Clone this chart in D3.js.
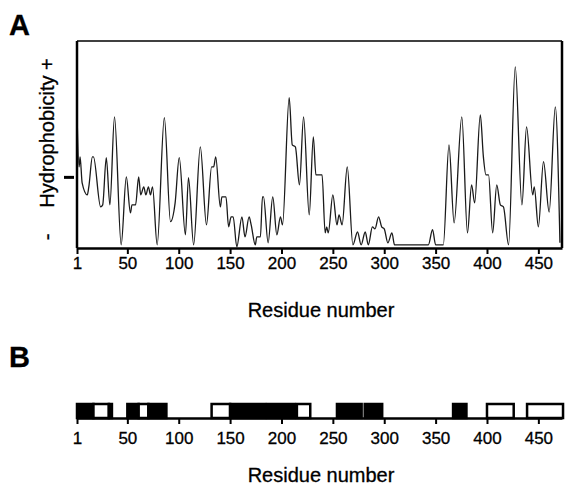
<!DOCTYPE html>
<html>
<head>
<meta charset="utf-8">
<script src="https://cdn.jsdelivr.net/npm/d3@7"></script>
<style>
  body { margin: 0; background: #fff; }
  text { font-family: "Liberation Sans", Arial, sans-serif; fill: #000; stroke: #000; stroke-width: 0.3px; }
</style>
</head>
<body>
<div id="chart"></div>
<script>
// hydrophobicity profile (residue, value)
var residues = [1, 3, 4, 6, 11, 12.5, 16, 17, 24, 26, 29.5, 33, 37.5, 44, 49, 53, 54.5, 58, 61, 63, 66, 68, 70.5, 72.5, 74.5, 79,
  86, 92, 96.5, 100.5, 106.5, 109.5, 114.5, 121, 127, 132, 134, 136, 140.5, 142, 146, 148.5, 151, 153, 156.5, 161.5, 164.5,
  168.5, 170.5, 174.5, 176, 179.5, 181.5, 182.5, 187, 191.5, 195.5, 199, 201, 207.5, 210.5, 213.5, 217.5, 221.5, 227, 231,
  233.5, 239.5, 242.5, 244, 245.5, 250, 254, 256, 259, 264, 269.5, 274, 277.5, 281.5, 284.5, 288.5, 291, 294.5, 297.5, 300,
  303.5, 307.5, 310, 343, 347, 350, 357.5, 363, 368, 375.5, 381, 385, 388, 393.5, 396.5, 399, 401.5, 405.5, 409.5, 413, 416,
  421, 427.5, 434, 438.5, 444.5, 446, 450, 455, 460.5, 466.5, 471];
var hydro = [1.6, 0.25, 0.5, -0.15, -0.45, -0.25, 0.5, 0.5, -0.75, -0.7, 0.48, -0.7, 1.5, -1.7, 0, -0.9, -0.7, -0.7, 0, -0.45,
  -0.25, -0.45, -0.25, -0.45, -0.25, -1.7,
  1.48, -1.12, -0.65, 0.48, -1.45, -0.02, -1.7, 0.75, -1.2, 0.25, 0.25, 0.5, -0.75, -0.5, -0.5, -1.25, -1, -1, -1.75, -1, -1.5,
  -1, -1.2, -1.7, -1.5, -1.5, -0.5, -0.5, -1.65, -0.5, -1.45, -1, -1.2, 1.98, 0.8, 0.75, -0.2, 1.5, -0.95, 1,
  0.05, 0.05, -1.4, -1.25, -1.4, -0.45, -1.2, -0.95, -1.2, 0.25, -1.7, -1.38, -1.7, -1.38, -1.7, -1.25, -1.3, -1, -1.25, -1.3,
  -1.65, -1.4, -1.7, -1.7, -1.32, -1.7, -1.7, 0.8, -1.15, 1.5, -1.4, -0.2, -0.65, 1.55, 0.5, 0.05, 0.05, -1.4, -0.2, -0.7, -0.75,
  -1.7, 2.75, -0.7, 1.25, -0.45, -0.25, -1.25, 0.38, -0.88, 1.75, -1.65];

var tickValues = [1, 50, 100, 150, 200, 250, 300, 350, 400, 450];

// panel B segments: start, end, filled or open
var segStart = [1, 17, 32, 50, 61, 70.5, 132, 150, 186, 215, 254, 281, 367, 400, 439];
var segEnd   = [17, 32, 35, 61, 70.5, 88, 150, 184, 213, 228, 278, 298, 380, 426, 474];
var segFilled = [true, false, true, true, false, true, false, true, true, false, true, true, true, false, false];

var svgWidth = 565;
var svgHeight = 486;

var svg = d3.select("#chart")
  .append("svg")
  .attr("width", svgWidth)
  .attr("height", svgHeight);

//shared x scale for both panels
var x = d3.scaleLinear()
  .domain([1, 473])
  .range([77, 562]);

//Panel A
var y = d3.scaleLinear()
  .domain([-1.78, 3.4])
  .range([248, 41]);

var line = d3.line()
  .x(function(d, i) { return x(residues[i]); })
  .y(function(d) { return y(d); })
  .curve(d3.curveMonotoneX);

svg.append("path")
  .datum(hydro)
  .attr("d", line)
  .attr("fill", "none")
  .attr("stroke", "#1a1a1a")
  .attr("stroke-width", 1.3);

//frame
svg.append("line").attr("x1", 77).attr("x2", 562).attr("y1", 41).attr("y2", 41)
  .attr("stroke", "#000").attr("stroke-width", 1.6);
svg.append("line").attr("x1", 562).attr("x2", 562).attr("y1", 41).attr("y2", 248)
  .attr("stroke", "#000").attr("stroke-width", 2.5);
svg.append("line").attr("x1", 77).attr("x2", 77).attr("y1", 41).attr("y2", 248)
  .attr("stroke", "#000").attr("stroke-width", 2.5);

var xAxisA = svg.append("g")
  .attr("transform", "translate(0, 248)")
  .call(d3.axisBottom(x).tickValues(tickValues).tickFormat(d3.format("d")).tickSize(6).tickPadding(3).tickSizeOuter(0));
xAxisA.select(".domain").attr("stroke-width", 2.5);
xAxisA.selectAll(".tick line").attr("stroke-width", 2);
xAxisA.selectAll("text").style("font-size", "17px").style("font-family", "Liberation Sans, Arial, sans-serif");

//the middle mark on the y axis
var yAxis = svg.append("g")
  .attr("transform", "translate(74, 0)")
  .call(d3.axisLeft(y).tickValues([0]).tickFormat("").tickSize(10).tickSizeOuter(0));
yAxis.select(".domain").remove();
yAxis.selectAll(".tick line").attr("stroke-width", 3);

svg.append("text")
  .attr("transform", "translate(54, 133) rotate(-90)")
  .attr("text-anchor", "middle")
  .style("font-size", "20px")
  .text("Hydrophobicity +");

svg.append("text")
  .attr("transform", "translate(54, 237) rotate(-90)")
  .attr("text-anchor", "middle")
  .style("font-size", "20px")
  .text("-");

svg.append("text")
  .attr("x", 321)
  .attr("y", 317)
  .attr("text-anchor", "middle")
  .style("font-size", "20px")
  .text("Residue number");

svg.append("text")
  .attr("x", 9)
  .attr("y", 35)
  .style("font-size", "29px")
  .style("font-weight", "bold")
  .text("A");

//Panel B
var base = 418;
var barTop = 404;

svg.selectAll(".seg")
  .data(segStart)
  .enter()
  .append("rect")
  .attr("class", "seg")
  .attr("x", function(d) { return x(d); })
  .attr("y", barTop)
  .attr("width", function(d, i) { return x(segEnd[i]) - x(d); })
  .attr("height", base - barTop)
  .attr("fill", function(d, i) { return segFilled[i] ? "#000" : "#fff"; })
  .attr("stroke", "#000")
  .attr("stroke-width", 2.5);

var xAxisB = svg.append("g")
  .attr("transform", "translate(0, " + base + ")")
  .call(d3.axisBottom(x).tickValues(tickValues).tickFormat(d3.format("d")).tickSize(6).tickPadding(8).tickSizeOuter(0));
xAxisB.select(".domain").attr("stroke-width", 2.5);
xAxisB.selectAll(".tick line").attr("stroke-width", 2);
xAxisB.selectAll("text").style("font-size", "17px").style("font-family", "Liberation Sans, Arial, sans-serif");

svg.append("text")
  .attr("x", 321)
  .attr("y", 482)
  .attr("text-anchor", "middle")
  .style("font-size", "20px")
  .text("Residue number");

svg.append("text")
  .attr("x", 9)
  .attr("y", 367)
  .style("font-size", "29px")
  .style("font-weight", "bold")
  .text("B");
</script>
</body>
</html>
